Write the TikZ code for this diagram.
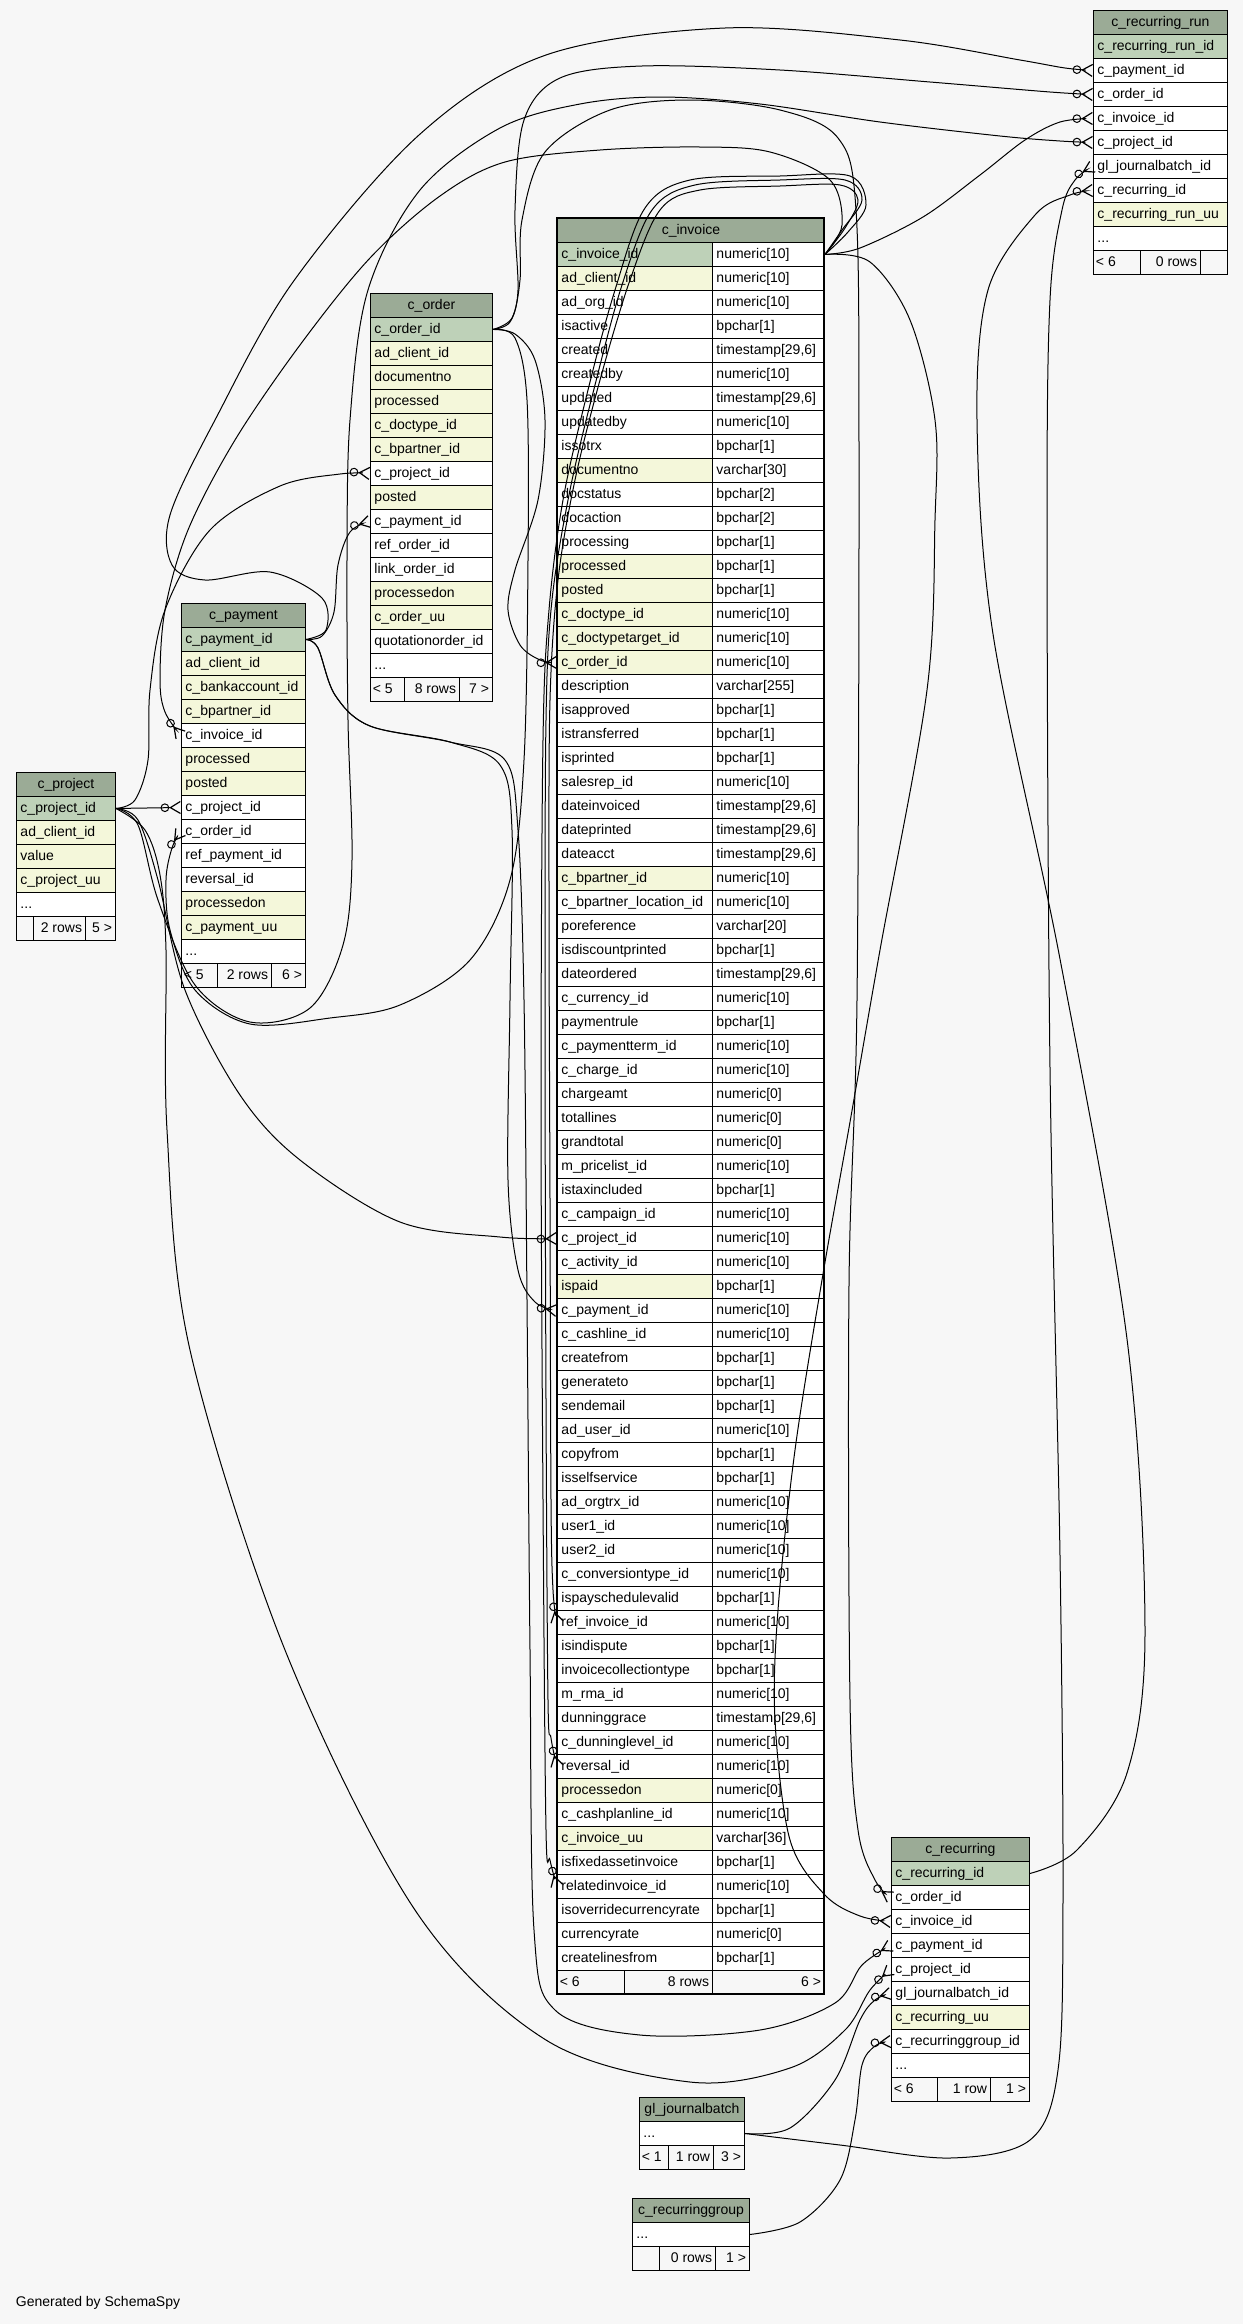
\documentclass[tikz,border=0pt]{standalone}
\usepackage{fontspec}
\setmainfont{Liberation Sans}
\usetikzlibrary{arrows.meta}

\definecolor{bgcol}{HTML}{F7F7F7}
\definecolor{hdrcol}{HTML}{9BAB96}
\definecolor{pkcol}{HTML}{BED1B8}
\definecolor{idxcol}{HTML}{F4F7DA}
\newcommand{\tabfont}{\fontsize{10.5pt}{12pt}\selectfont}
\newcommand{\tdots}{...}

\tikzset{
  cell/.style={draw=black, line width=0.7pt, anchor=north west, minimum height=18pt,
    text height=7.8pt, text depth=2.4pt, inner xsep=3pt, inner ysep=0pt, font=\tabfont},
  row/.style={cell, align=left},
  hdr/.style={cell, fill=hdrcol, align=center},
  foot/.style={inner sep=2pt, font=\tabfont},
  rel/.style={line width=0.75pt, -{Circle[open,length=6.5pt,width=6.5pt] Straight Barb[reversed,length=7.5pt,width=9pt,line width=0.9pt]}},
}

% footer row: prefix, x1, x2, x3, x4, top, left text, middle text, right text
\newcommand{\tabfoot}[9]{%
  \draw[line width=0.7pt, fill=bgcol] (#2,#6) rectangle (#5,#6+24);
  \draw[line width=0.7pt] (#3,#6) -- (#3,#6+24) (#4,#6) -- (#4,#6+24);
  \node[foot, anchor=west] (#1f1) at (#2,#6+12) {#7};
  \node[foot, anchor=east] (#1f2) at (#4,#6+12) {#8};
  \node[foot, anchor=east] (#1f3) at (#5,#6+12) {#9};
}

\begin{document}
\begin{tikzpicture}[x=0.75pt, y=-0.75pt]
  \fill[bgcol] (0,0) rectangle (1243,2324);
  \useasboundingbox (0,0) rectangle (1243,2324);

  % c_recurring_run
  \node[hdr, text width=94.5pt] (rr0) at (1093,10) {c\_recurring\_run};
  \foreach \nm/\fc [count=\i] in {c\_recurring\_run\_id/pkcol, c\_payment\_id/white, c\_order\_id/white,
      c\_invoice\_id/white, c\_project\_id/white, gl\_journalbatch\_id/white, c\_recurring\_id/white,
      c\_recurring\_run\_uu/idxcol, \tdots/white}
    \node[row, text width=94.5pt, fill=\fc] (rr\i) at (1093,10+24*\i) {\nm};
  \tabfoot{rr}{1093}{1140}{1200}{1227}{250}{< 6}{0 rows}{}

  % c_invoice
  \node[hdr, text width=194.25pt] (in0) at (557,218) {c\_invoice};
  \foreach \nm/\ty/\fc [count=\i] in {c\_invoice\_id/numeric[10]/pkcol, ad\_client\_id/numeric[10]/idxcol,
      ad\_org\_id/numeric[10]/white, isactive/bpchar[1]/white, created/{timestamp[29,6]}/white,
      createdby/numeric[10]/white, updated/{timestamp[29,6]}/white, updatedby/numeric[10]/white,
      issotrx/bpchar[1]/white, documentno/varchar[30]/idxcol, docstatus/bpchar[2]/white,
      docaction/bpchar[2]/white, processing/bpchar[1]/white, processed/bpchar[1]/idxcol,
      posted/bpchar[1]/idxcol, c\_doctype\_id/numeric[10]/idxcol, c\_doctypetarget\_id/numeric[10]/idxcol,
      c\_order\_id/numeric[10]/idxcol, description/varchar[255]/white, isapproved/bpchar[1]/white,
      istransferred/bpchar[1]/white, isprinted/bpchar[1]/white, salesrep\_id/numeric[10]/white,
      dateinvoiced/{timestamp[29,6]}/white, dateprinted/{timestamp[29,6]}/white,
      dateacct/{timestamp[29,6]}/white, c\_bpartner\_id/numeric[10]/idxcol,
      c\_bpartner\_location\_id/numeric[10]/white, poreference/varchar[20]/white,
      isdiscountprinted/bpchar[1]/white, dateordered/{timestamp[29,6]}/white,
      c\_currency\_id/numeric[10]/white, paymentrule/bpchar[1]/white, c\_paymentterm\_id/numeric[10]/white,
      c\_charge\_id/numeric[10]/white, chargeamt/numeric[0]/white, totallines/numeric[0]/white,
      grandtotal/numeric[0]/white, m\_pricelist\_id/numeric[10]/white, istaxincluded/bpchar[1]/white,
      c\_campaign\_id/numeric[10]/white, c\_project\_id/numeric[10]/white, c\_activity\_id/numeric[10]/white,
      ispaid/bpchar[1]/idxcol, c\_payment\_id/numeric[10]/white, c\_cashline\_id/numeric[10]/white,
      createfrom/bpchar[1]/white, generateto/bpchar[1]/white, sendemail/bpchar[1]/white,
      ad\_user\_id/numeric[10]/white, copyfrom/bpchar[1]/white, isselfservice/bpchar[1]/white,
      ad\_orgtrx\_id/numeric[10]/white, user1\_id/numeric[10]/white, user2\_id/numeric[10]/white,
      c\_conversiontype\_id/numeric[10]/white, ispayschedulevalid/bpchar[1]/white,
      ref\_invoice\_id/numeric[10]/white, isindispute/bpchar[1]/white,
      invoicecollectiontype/bpchar[1]/white, m\_rma\_id/numeric[10]/white,
      dunninggrace/{timestamp[29,6]}/white, c\_dunninglevel\_id/numeric[10]/white,
      reversal\_id/numeric[10]/white, processedon/numeric[0]/idxcol, c\_cashplanline\_id/numeric[10]/white,
      c\_invoice\_uu/varchar[36]/idxcol, isfixedassetinvoice/bpchar[1]/white,
      relatedinvoice\_id/numeric[10]/white, isoverridecurrencyrate/bpchar[1]/white,
      currencyrate/numeric[0]/white, createlinesfrom/bpchar[1]/white}
  {
    \node[row, text width=110.25pt, fill=\fc] (in\i) at (557,218+24*\i) {\nm};
    \node[row, text width=78pt, fill=white] (it\i) at (712,218+24*\i) {\ty};
  }
  \tabfoot{in}{557}{624}{712}{824}{1970}{< 6}{8 rows}{6 >}
  \draw[line width=2.2pt] (557,218) rectangle (824,1994);

  % c_order
  \node[hdr, text width=85.5pt] (or0) at (370,293) {c\_order};
  \foreach \nm/\fc [count=\i] in {c\_order\_id/pkcol, ad\_client\_id/idxcol, documentno/idxcol,
      processed/idxcol, c\_doctype\_id/idxcol, c\_bpartner\_id/idxcol, c\_project\_id/white, posted/idxcol,
      c\_payment\_id/white, ref\_order\_id/white, link\_order\_id/white, processedon/idxcol,
      c\_order\_uu/idxcol, quotationorder\_id/white, \tdots/white}
    \node[row, text width=85.5pt, fill=\fc] (or\i) at (370,293+24*\i) {\nm};
  \tabfoot{or}{370}{404}{459}{492}{677}{< 5}{8 rows}{7 >}

  % c_payment
  \node[hdr, text width=87pt] (pa0) at (181,603) {c\_payment};
  \foreach \nm/\fc [count=\i] in {c\_payment\_id/pkcol, ad\_client\_id/idxcol, c\_bankaccount\_id/idxcol,
      c\_bpartner\_id/idxcol, c\_invoice\_id/white, processed/idxcol, posted/idxcol, c\_project\_id/white,
      c\_order\_id/white, ref\_payment\_id/white, reversal\_id/white, processedon/idxcol,
      c\_payment\_uu/idxcol, \tdots/white}
    \node[row, text width=87pt, fill=\fc] (pa\i) at (181,603+24*\i) {\nm};
  \tabfoot{pa}{181}{217}{271}{305}{963}{< 5}{2 rows}{6 >}

  % c_project
  \node[hdr, text width=68.25pt] (pj0) at (16,772) {c\_project};
  \foreach \nm/\fc [count=\i] in {c\_project\_id/pkcol, ad\_client\_id/idxcol, value/idxcol,
      c\_project\_uu/idxcol, \tdots/white}
    \node[row, text width=68.25pt, fill=\fc] (pj\i) at (16,772+24*\i) {\nm};
  \tabfoot{pj}{16}{33}{85}{115}{916}{}{2 rows}{5 >}

  % c_recurring
  \node[hdr, text width=97.5pt] (rc0) at (891,1837) {c\_recurring};
  \foreach \nm/\fc [count=\i] in {c\_recurring\_id/pkcol, c\_order\_id/white, c\_invoice\_id/white,
      c\_payment\_id/white, c\_project\_id/white, gl\_journalbatch\_id/white, c\_recurring\_uu/idxcol,
      c\_recurringgroup\_id/white, \tdots/white}
    \node[row, text width=97.5pt, fill=\fc] (rc\i) at (891,1837+24*\i) {\nm};
  \tabfoot{rc}{891}{937}{990}{1029}{2077}{< 6}{1 row}{1 >}

  % gl_journalbatch
  \node[hdr, text width=72.75pt] (gj0) at (639,2097) {gl\_journalbatch};
  \node[row, text width=72.75pt, fill=white] (gj1) at (639,2121) {\tdots};
  \tabfoot{gj}{639}{668}{713}{744}{2145}{< 1}{1 row}{3 >}

  % c_recurringgroup
  \node[hdr, text width=81.75pt] (rg0) at (632,2198) {c\_recurringgroup};
  \node[row, text width=81.75pt, fill=white] (rg1) at (632,2222) {\tdots};
  \tabfoot{rg}{632}{659}{715}{749}{2246}{}{0 rows}{1 >}

  \node[foot, anchor=west] (credit) at (13,2303) {Generated by SchemaSpy};

  % relations from c_project
  \draw[rel] (pj1.east) -- (pa8.west);
  \draw[rel] plot[smooth, tension=0.55] coordinates {(pj1.east) (138,820) (158,880) (185,990) (240,1095)
    (300,1160) (400,1222) (500,1237) (in42.west)};
  \draw[rel] plot[smooth, tension=0.55] coordinates {(pj1.east) (135,800) (148,760) (150,690) (165,610)
    (210,530) (280,486) (340,474) (or7.west)};
  \draw[rel] plot[smooth, tension=0.55] coordinates {(pj1.east) (138,825) (158,900) (195,985) (250,1022)
    (310,1008) (343,945) (352,860) (348,720) (347,560) (350,420) (368,290) (420,190) (500,128) (580,104)
    (661,97) (760,104) (880,122) (1000,136) (1060,141) (rr5.west)};
  \draw[rel] plot[smooth, tension=0.55] coordinates {(pj1.east) (145,830) (160,875) (166,950) (167,1130)
    (190,1350) (285,1650) (415,1910) (546,2040) (690,2082) (790,2068) (845,2030) (870,1990) (rc5.west)};

  % relations from c_payment
  \draw[rel] plot[smooth, tension=0.55] coordinates {(pa1.east) (322,636) (334,612) (338,565) (350,532)
    (or9.west)};
  \draw[rel] plot[smooth, tension=0.55] coordinates {(pa1.east) (318,648) (335,695) (370,726) (450,742)
    (505,760) (518,830) (524,1000) (527,1300) (530,1650) (534,1930) (555,2010) (640,2035) (760,2030)
    (835,2003) (862,1965) (rc4.west)};
  \draw[rel] plot[smooth, tension=0.55] coordinates {(pa1.east) (318,648) (335,695) (370,726) (450,742)
    (500,765) (512,830) (510,1000) (508,1180) (518,1270) (535,1302) (in45.west)};
  \draw[rel] plot[smooth, tension=0.55] coordinates {(pa1.east) (326,630) (322,598) (270,572) (205,580)
    (172,565) (170,515) (215,420) (293,282) (419,135) (546,55) (725,28) (900,40) (1020,60) (1065,68)
    (rr2.west)};

  % relations from c_invoice
  \draw[rel] plot[smooth, tension=0.55] coordinates {(it1.east) (842,225) (830,180) (770,152) (700,147)
    (600,150) (505,162) (440,196) (370,258) (300,345) (235,440) (188,530) (165,610) (160,680) (165,712)
    (pa5.west)};
  \draw[rel] plot[smooth, tension=0.55] coordinates {(it1.east) (870,262) (910,320) (935,420) (935,520)
    (927,690) (880,950) (850,1122) (823,1274) (795,1450) (778,1610) (775,1720) (790,1840) (825,1895)
    (860,1916) (rc3.west)};
  \draw[rel] plot[smooth, tension=0.55] coordinates {(it1.east) (860,248) (923,217) (980,175) (1025,140)
    (1060,122) (rr4.west)};
  \draw[rel] plot[smooth, tension=0.55] coordinates {(it1.east) (845,228) (858,200) (840,185) (780,186)
    (700,190) (660,210) (630,280) (600,380) (575,480) (558,580) (550,700) (549,900) (550,1200) (551,1500)
    (553,1590) (in58.west)};
  \draw[rel] plot[smooth, tension=0.55] coordinates {(it1.east) (842,230) (862,200) (845,180) (780,180)
    (695,185) (652,210) (622,285) (595,385) (570,490) (552,600) (546,720) (545,1000) (546,1400)
    (548,1700) (551,1738) (in64.west)};
  \draw[rel] plot[smooth, tension=0.55] coordinates {(it1.east) (848,232) (866,205) (850,176) (780,176)
    (690,180) (645,208) (615,290) (588,390) (563,500) (549,610) (543,740) (541,1100) (543,1500)
    (546,1830) (550,1860) (in69.west)};

  % relations from c_order
  \draw[rel] plot[smooth, tension=0.55] coordinates {(or1.east) (515,334) (535,360) (545,420) (538,500)
    (515,570) (508,610) (520,645) (540,660) (in18.west)};
  \draw[rel] plot[smooth, tension=0.55] coordinates {(or1.east) (510,322) (518,290) (515,210) (524,120)
    (560,78) (642,66) (780,70) (930,82) (1050,92) (rr3.west)};
  \draw[rel] plot[smooth, tension=0.55] coordinates {(or1.east) (512,318) (520,280) (522,220) (545,152)
    (610,110) (690,100) (780,110) (838,138) (856,210) (859,450) (857,1000) (849,1285) (850,1700)
    (858,1830) (875,1880) (rc2.west)};
  \draw[rel] plot[smooth, tension=0.55] coordinates {(or1.east) (515,338) (527,400) (528,560) (524,760)
    (510,880) (470,960) (400,1005) (330,1018) (250,1024) (195,990) (170,930) (166,880) (172,848)
    (pa9.west)};

  % relations from c_recurring, gl_journalbatch, c_recurringgroup
  \draw[rel] plot[smooth, tension=0.55] coordinates {(rc1.east) (1077,1850) (1127,1773) (1145,1632)
    (1127,1339) (1060,959) (993,634) (977,420) (988,290) (1035,215) (1070,195) (rr7.west)};
  \draw[rel] plot[smooth, tension=0.55] coordinates {(gj1.east) (840,2145) (950,2158) (1030,2140)
    (1058,2070) (1063,1900) (1060,1556) (1050,1068) (1047,525) (1050,300) (1062,210) (1075,180)
    (rr6.west)};
  \draw[rel] plot[smooth, tension=0.55] coordinates {(gj1.east) (790,2128) (835,2080) (860,2020)
    (875,2000) (rc6.west)};
  \draw[rel] plot[smooth, tension=0.55] coordinates {(rg1.east) (800,2222) (840,2180) (855,2120)
    (862,2065) (875,2046) (rc8.west)};
\end{tikzpicture}
\end{document}
